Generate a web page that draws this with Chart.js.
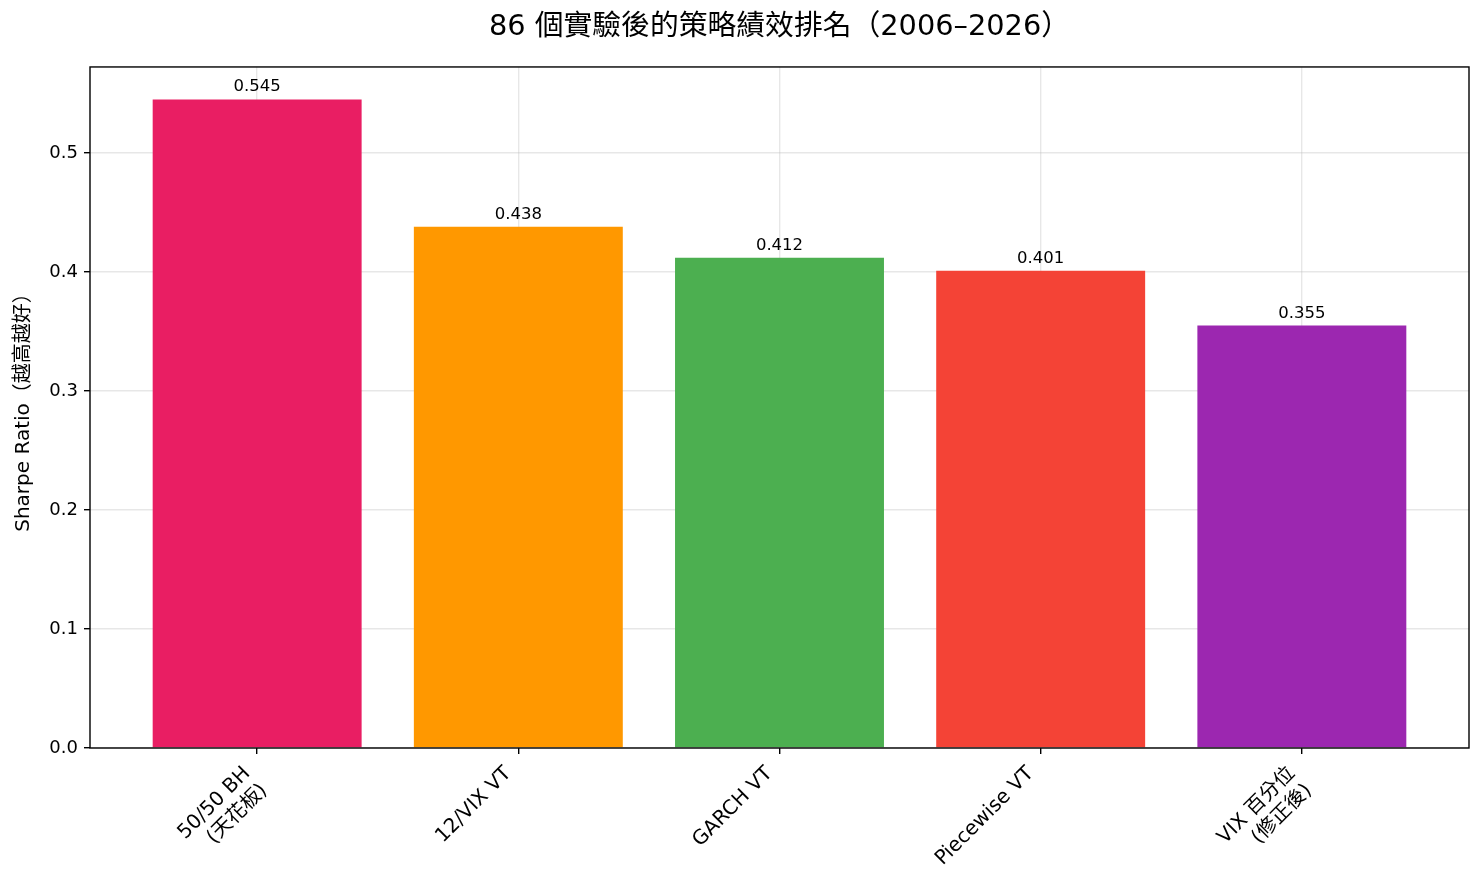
<!DOCTYPE html>
<html>
<head>
<meta charset="utf-8">
<script src="https://cdn.jsdelivr.net/npm/chart.js@4"></script>
<style>
  html, body { margin: 0; padding: 0; background: #fff; }
  #wrap { width: 1483px; height: 882px; }
</style>
</head>
<body>
<div id="wrap"><canvas id="rankChart" width="1483" height="882"></canvas></div>
<script>
// Strategy ranking after 86 experiments

const strategies = [
    ['50/50 BH', '(天花板)'],
    '12/VIX VT',
    'GARCH VT',
    'Piecewise VT',
    ['VIX 百分位', '(修正後)']
];
const sharpe = [0.545, 0.438, 0.412, 0.401, 0.355];
const barColors = ['#E91E63', '#FF9800', '#4CAF50', '#F44336', '#9C27B0'];
const yTicks = [0, 0.1, 0.2, 0.3, 0.4, 0.5];

const FONT = '"DejaVu Sans", "Noto Sans CJK TC", sans-serif';
const GRID = 'rgba(176, 176, 176, 0.3)';

// value labels above each bar
const valueLabels = {
    id: 'valueLabels',
    afterDatasetsDraw(chart) {
        const ctx = chart.ctx;
        const meta = chart.getDatasetMeta(0);
        ctx.save();
        ctx.fillStyle = '#000';
        ctx.font = '16.5px ' + FONT;
        ctx.textAlign = 'center';
        ctx.textBaseline = 'alphabetic';
        meta.data.forEach((bar, i) => {
            ctx.fillText(sharpe[i].toFixed(3), bar.x, bar.y - 8);
        });
        ctx.restore();
    }
};

// box around the plot area
const frame = {
    id: 'frame',
    afterDraw(chart) {
        const a = chart.chartArea;
        const ctx = chart.ctx;
        ctx.save();
        ctx.strokeStyle = '#000';
        ctx.lineWidth = 1.4;
        ctx.strokeRect(a.left, a.top, a.right - a.left, a.bottom - a.top);
        ctx.restore();
    }
};

const ctx = document.getElementById('rankChart');

new Chart(ctx, {
    type: 'bar',
    data: {
        datasets: [{
            data: sharpe.map((v, i) => ({ x: i, y: v })),
            backgroundColor: barColors,
            borderWidth: 0,
            categoryPercentage: 0.8,
            barPercentage: 1.0
        }]
    },
    options: {
        responsive: false,
        animation: false,
        layout: { padding: { left: 0, right: 14, top: 0, bottom: 0 } },
        plugins: {
            legend: { display: false },
            tooltip: { enabled: false },
            title: {
                display: true,
                fullSize: false,
                text: '86 個實驗後的策略績效排名（2006–2026）',
                color: '#000',
                font: { family: FONT, size: 28.8, weight: 'normal' },
                padding: { top: 10, bottom: 22.4 }
            }
        },
        scales: {
            x: {
                type: 'linear',
                min: -0.64,
                max: 4.64,
                offset: false,
                z: 1,
                afterBuildTicks: scale => {
                    scale.ticks = strategies.map((_, i) => ({ value: i }));
                },
                afterFit: scale => { scale.height = 134; },
                ticks: {
                    color: '#000',
                    font: { family: FONT, size: 20 },
                    minRotation: 45,
                    maxRotation: 45,
                    padding: 8,
                    labelOffset: -10,
                    autoSkip: false,
                    callback: v => strategies[v]
                },
                grid: {
                    offset: false,
                    color: GRID,
                    lineWidth: 1.4,
                    tickColor: '#000',
                    tickLength: 6
                },
                border: { display: false }
            },
            y: {
                min: 0,
                max: 0.5723,
                z: 1,
                afterBuildTicks: scale => {
                    scale.ticks = yTicks.map(v => ({ value: v }));
                },
                afterFit: scale => { scale.width = 90; },
                ticks: {
                    color: '#000',
                    font: { family: FONT, size: 18 },
                    padding: 6,
                    callback: v => v.toFixed(1)
                },
                grid: {
                    color: GRID,
                    lineWidth: 1.4,
                    tickColor: '#000',
                    tickLength: 6
                },
                border: { display: false },
                title: {
                    display: true,
                    text: 'Sharpe Ratio（越高越好）',
                    color: '#000',
                    font: { family: FONT, size: 20 },
                    padding: { top: 12, bottom: 0 }
                }
            }
        }
    },
    plugins: [valueLabels, frame]
});
</script>
</body>
</html>
